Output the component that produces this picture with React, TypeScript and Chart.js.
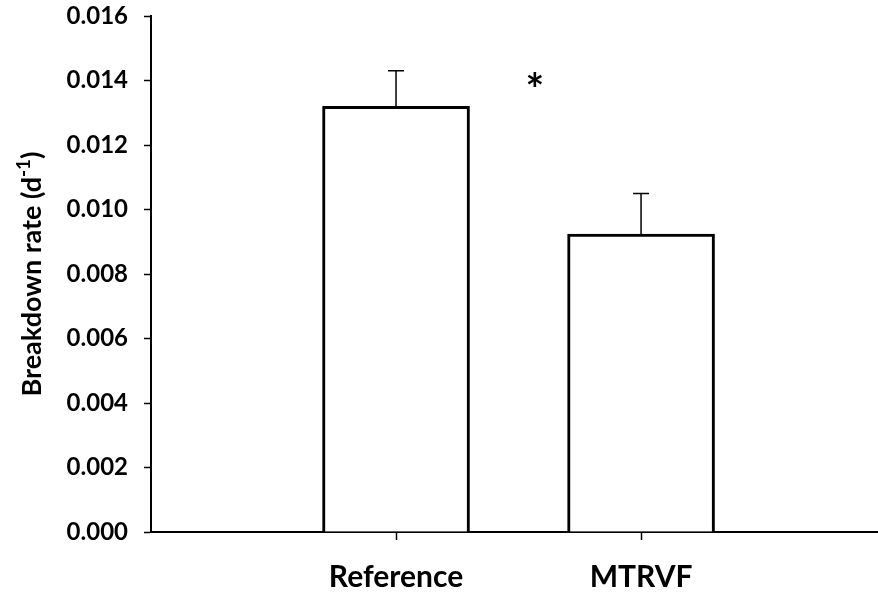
import React, { useEffect, useRef } from "react";
import { Chart, registerables } from "chart.js";

Chart.register(...registerables);

const categories = ["Reference", "MTRVF"];
const rates = [0.0132, 0.00924];
const errors = [0.0011, 0.00126];
const yTicks = [0, 0.002, 0.004, 0.006, 0.008, 0.01, 0.012, 0.014, 0.016];
const markText = "*";
const markPos = [1.567, 0.01395];
const yTitleMain = "Breakdown rate (d";
const yTitleSup = "-1";
const yTitleEnd = ")";

const FONT = "Lato, 'Open Sans', sans-serif";

const errorBarPlugin = {
  id: "errorBars",
  afterDatasetsDraw(chart: any) {
    const ctx = chart.ctx;
    const xs = chart.scales.x;
    const ys = chart.scales.y;
    ctx.save();
    ctx.strokeStyle = "#000";
    ctx.lineWidth = 1.5;
    rates.forEach((v, i) => {
      const x = xs.getPixelForValue(i + 1);
      const y0 = ys.getPixelForValue(v);
      const y1 = ys.getPixelForValue(v + errors[i]);
      ctx.beginPath();
      ctx.moveTo(x, y0);
      ctx.lineTo(x, y1);
      ctx.moveTo(x - 8, y1);
      ctx.lineTo(x + 8, y1);
      ctx.stroke();
    });
    ctx.fillStyle = "#000";
    ctx.font = `bold 44px ${FONT}`;
    ctx.textAlign = "center";
    ctx.textBaseline = "middle";
    ctx.fillText(markText, xs.getPixelForValue(markPos[0]), ys.getPixelForValue(markPos[1]) + 9);
    ctx.restore();

    // y-axis title with superscript
    ctx.save();
    const cy = (chart.chartArea.top + chart.chartArea.bottom) / 2;
    ctx.translate(41, cy);
    ctx.rotate(-Math.PI / 2);
    ctx.fillStyle = "#000";
    ctx.textBaseline = "alphabetic";
    ctx.textAlign = "left";
    const mainFont = `bold 27px ${FONT}`;
    const supFont = `bold 19px ${FONT}`;
    ctx.font = mainFont;
    const w1 = ctx.measureText(yTitleMain).width;
    const w3 = ctx.measureText(yTitleEnd).width;
    ctx.font = supFont;
    const w2 = ctx.measureText(yTitleSup).width;
    let x = -(w1 + w2 + w3) / 2;
    ctx.font = mainFont;
    ctx.fillText(yTitleMain, x, 0);
    x += w1;
    ctx.font = supFont;
    ctx.fillText(yTitleSup, x, -11);
    x += w2;
    ctx.font = mainFont;
    ctx.fillText(yTitleEnd, x, 0);
    ctx.restore();
  },
};

export default function App() {
  const ref = useRef<HTMLCanvasElement>(null);
  useEffect(() => {
    if (!ref.current) return;
    const chart = new Chart(ref.current, {
      type: "bar",
      data: {
        datasets: [
          {
            data: categories.map((c, i) => ({ x: i + 1, y: rates[i] })),
            backgroundColor: "#fff",
            borderColor: "#000",
            borderWidth: 3,
            barThickness: 147,
          },
        ],
      },
      options: {
        animation: false,
        responsive: true,
        maintainAspectRatio: false,
        layout: { padding: { top: 16, left: 0, right: 0, bottom: 0 } },
        plugins: { legend: { display: false }, tooltip: { enabled: false } },
        scales: {
          x: {
            type: "linear",
            min: 0,
            max: 2.967,
            offset: false,
            afterBuildTicks: (s: any) => {
              s.ticks = [{ value: 1 }, { value: 2 }];
            },
            afterFit: (s: any) => {
              s.height = 64;
              s.paddingLeft = 0;
              s.paddingRight = 0;
            },
            grid: { offset: false, drawOnChartArea: false, drawTicks: true, tickLength: 8, tickColor: "#000", tickWidth: 1.5 },
            border: { display: true, color: "#000", width: 2 },
            ticks: {
              autoSkip: false,
              maxRotation: 0,
              padding: 19,
              color: "#000",
              font: { family: FONT, size: 30, weight: "bold" },
              callback: (v: any) => categories[Math.round(v) - 1] ?? "",
            },
          },
          y: {
            min: 0,
            max: 0.016,
            afterBuildTicks: (s: any) => {
              s.ticks = yTicks.map((v) => ({ value: v }));
            },
            afterFit: (s: any) => {
              s.width = 151;
              s.paddingTop = 0;
              s.paddingBottom = 0;
            },
            grid: { drawOnChartArea: false, drawTicks: true, tickLength: 7, tickColor: "#000", tickWidth: 1.5 },
            border: { display: true, color: "#000", width: 2 },
            title: { display: false },
            ticks: {
              padding: 16,
              color: "#000",
              font: { family: FONT, size: 24, weight: "bold" },
              callback: (v: any) => Number(v).toFixed(3),
            },
          },
        },
      },
      plugins: [errorBarPlugin],
    });
    return () => chart.destroy();
  }, []);
  return (
    <div style={{ position: "fixed", left: 0, top: 0, width: 878, height: 596, background: "#fff" }}>
      <canvas ref={ref} />
    </div>
  );
}
